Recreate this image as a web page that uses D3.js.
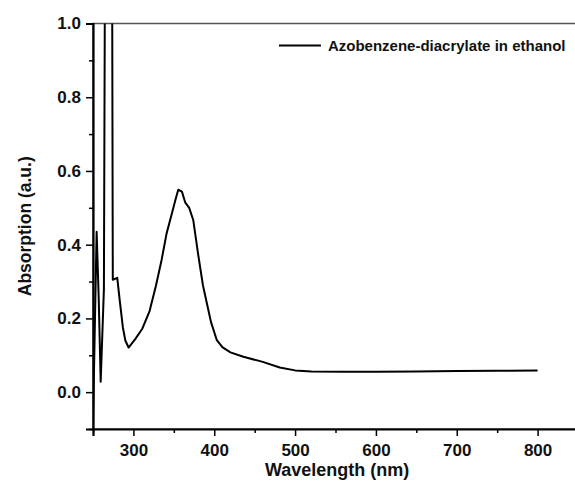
<!DOCTYPE html>
<html>
<head>
<meta charset="utf-8">
<script src="https://cdn.jsdelivr.net/npm/d3@7"></script>
<style>
  body { margin: 0; background: #fff; }
  text { font-family: 'Liberation Sans', Arial, sans-serif; font-weight: bold; fill: #111; }
</style>
</head>
<body>
<div id="chart"></div>
<script>
// spectrum (nm, a.u.)
const wavelength = [250, 251, 254.5, 257, 259.5, 263.5, 265, 273.5, 274.5, 280, 283, 287, 290, 294,
  302, 311, 320, 328, 335, 341, 347, 353, 355.5, 360, 364, 369, 374, 380, 386, 391, 396, 403,
  410, 420, 436, 460, 481, 500, 520, 560, 600, 650, 700, 750, 800]
const absorption = [-0.1, 0.03, 0.435, 0.26, 0.028, 0.28, 1.3, 1.3, 0.305, 0.31, 0.25, 0.175, 0.14, 0.121,
  0.143, 0.172, 0.22, 0.29, 0.36, 0.43, 0.48, 0.53, 0.549, 0.544, 0.515, 0.5, 0.467, 0.375, 0.29, 0.24, 0.19, 0.142,
  0.122, 0.108, 0.096, 0.082, 0.067, 0.059, 0.056, 0.055, 0.055, 0.056, 0.057, 0.058, 0.059]
const xTicks = [300, 400, 500, 600, 700, 800]
const xMinor = [250, 350, 450, 550, 650, 750]
const yTicks = [0.0, 0.2, 0.4, 0.6, 0.8, 1.0]
const yMinor = [-0.1, 0.1, 0.3, 0.5, 0.7, 0.9]
const seriesName = 'Azobenzene-diacrylate in ethanol'

const outerWidth = 575
const outerHeight = 500
const margin = { top: 23.5, right: -3, bottom: 71, left: 93 }
const width = outerWidth - margin.left - margin.right
const height = outerHeight - margin.top - margin.bottom

const raw = d3.select('#chart')
  .append('svg')
  .attr('width', outerWidth)
  .attr('height', outerHeight)
const svg = raw.append('g')
  .attr('transform', `translate(${margin.left},${margin.top})`)

const xs = d3.scaleLinear().domain([250, 850]).range([0, width])
const ys = d3.scaleLinear().domain([-0.1, 1.0]).range([height, 0])

svg.append('clipPath').attr('id', 'clip')
  .append('rect').attr('width', width).attr('height', height)

// frame
svg.append('rect')
  .attr('width', width)
  .attr('height', height)
  .attr('fill', 'none')
  .attr('stroke', '#555')
  .attr('stroke-width', 1.5)

// spectrum
const pts = wavelength.map((w, i) => [w, absorption[i]])
svg.append('path')
  .datum(pts)
  .attr('clip-path', 'url(#clip)')
  .attr('d', d3.line().x(d => xs(d[0])).y(d => ys(d[1])))
  .attr('fill', 'none')
  .attr('stroke', '#000')
  .attr('stroke-width', 2)
  .attr('stroke-linejoin', 'round')

// axes
svg.append('g')
  .attr('transform', `translate(0,${height})`)
  .call(d3.axisBottom(xs).tickValues(xTicks).tickFormat(d3.format('d')).tickSize(7).tickPadding(8))
svg.append('g')
  .attr('transform', `translate(0,${height})`)
  .call(d3.axisBottom(xs).tickValues(xMinor).tickFormat('').tickSize(4))
  .call(g => g.select('.domain').remove())
svg.append('g')
  .call(d3.axisLeft(ys).tickValues(yTicks).tickFormat(d3.format('.1f')).tickSize(7).tickPadding(5))
svg.append('g')
  .call(d3.axisLeft(ys).tickValues(yMinor).tickFormat('').tickSize(4))
  .call(g => g.select('.domain').remove())

svg.selectAll('.tick line').attr('stroke', '#000').attr('stroke-width', 1.5)
svg.selectAll('.domain').attr('stroke', '#000').attr('stroke-width', 2.2)
svg.selectAll('.tick text').attr('font-size', 17).attr('font-family', null)

// axis labels
svg.append('text')
  .attr('transform', 'rotate(-90)')
  .attr('x', -(ys(0.45)))
  .attr('y', -62)
  .style('text-anchor', 'middle')
  .attr('font-size', 17.5)
  .text('Absorption (a.u.)')
svg.append('text')
  .attr('x', xs(552))
  .attr('y', height + 47)
  .style('text-anchor', 'middle')
  .attr('font-size', 18)
  .text('Wavelength (nm)')

// legend
const lg = svg.append('g').attr('transform', `translate(${xs(480)},${ys(0.94)})`)
lg.append('line').attr('x1', 0).attr('x2', 42).attr('stroke', '#000').attr('stroke-width', 2)
lg.append('text').attr('x', 49).attr('dy', '0.35em').attr('font-size', 15).text(seriesName)
</script>
</body>
</html>
